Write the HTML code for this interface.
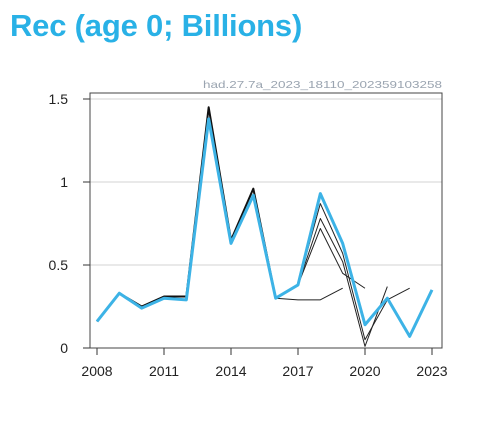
<!DOCTYPE html>
<html><head><meta charset="utf-8"><style>
body{margin:0;background:#fff;width:487px;height:427px;overflow:hidden;font-family:"Liberation Sans",sans-serif}
#title{position:absolute;left:10px;top:8px;font-size:31px;font-weight:bold;color:#29b1e6;letter-spacing:-0.2px;white-space:nowrap}
svg{position:absolute;left:0;top:0}
</style></head><body>
<div id="title">Rec (age 0; Billions)</div>
<svg id="chart" width="487" height="427"></svg>
<script>
const years=[2008,2009,2010,2011,2012,2013,2014,2015,2016,2017,2018,2019,2020,2021,2022,2023];
const current=[0.16,0.33,0.24,0.30,0.29,1.38,0.63,0.92,0.30,0.38,0.93,0.63,0.14,0.30,0.07,0.35];
const retroBase=[0.16,0.33,0.25,0.31,0.31,1.45,0.65,0.96,0.30];
const retro2019=[0.29,0.29,0.36];
const retro2020=[0.38,0.72,0.45,0.36];
const retro2021=[0.38,0.78,0.52,0.01,0.37];
const retro2022=[0.38,0.87,0.57,0.05,0.29,0.36];
const yTicks=[0,0.5,1,1.5];
const yTickLabels=["0","0.5","1","1.5"];
const xTicks=[2008,2011,2014,2017,2020,2023];
const X0=90,X1=442,Y0=93,Y1=348;
const x=v=>97+(v-2008)*(432-97)/15;
const y=v=>348-v*166;
const svg=document.getElementById('chart');
const NS='http://www.w3.org/2000/svg';
function mk(t,a){const e=document.createElementNS(NS,t);for(const k in a)e.setAttribute(k,a[k]);svg.appendChild(e);return e;}
yTicks.forEach((t,i)=>{
 if(t>0){const g=mk('line',{x1:X0,x2:X1,y1:y(t),y2:y(t),stroke:'#e2e2e2','stroke-width':1.5});
 
 }
 const tk=mk('line',{x1:X0-7,x2:X0,y1:y(t),y2:y(t),stroke:'#333'});
 
 
 const l=mk('text',{x:X0-22,y:y(t)+5,'text-anchor':'end','font-size':14,fill:'#222'});
 l.textContent=yTickLabels[i];
 
 
});
xTicks.forEach(t=>{
 const tk=mk('line',{x1:x(t),x2:x(t),y1:Y1,y2:Y1+7,stroke:'#333'});
 
 
 const l=mk('text',{x:x(t),y:Y1+28,'text-anchor':'middle','font-size':14,fill:'#222'});
 l.textContent=t;
 
 
});
const box=mk('rect',{x:X0,y:Y0,width:X1-X0,height:Y1-Y0,fill:'none',stroke:'#444','stroke-width':1});


const sub=mk('text',{x:203,y:88,'font-size':10.5,fill:'#9aa4b0',textLength:239,lengthAdjust:'spacingAndGlyphs'});
sub.textContent='had.27.7a_2023_18110_202359103258';


function line(vals,startIdx,stroke,w,name){
 const pts=vals.map((v,i)=>x(years[startIdx+i])+','+y(v)).join(' ');
 const p=mk('polyline',{points:pts,fill:'none',stroke:stroke,'stroke-width':w,'stroke-linejoin':'round'});
 
 
}
line(retroBase,0,'#111',2,'retro-common');
line([retroBase[8]].concat(retro2019),8,'#222',1,'retro-2019');
line([retroBase[8]].concat(retro2020),8,'#222',1,'retro-2020');
line([retroBase[8]].concat(retro2021),8,'#222',1,'retro-2021');
line([retroBase[8]].concat(retro2022),8,'#222',1,'retro-2022');
line(current,0,'#3db3e6',3,'current-assessment-line');
</script>
</body></html>
